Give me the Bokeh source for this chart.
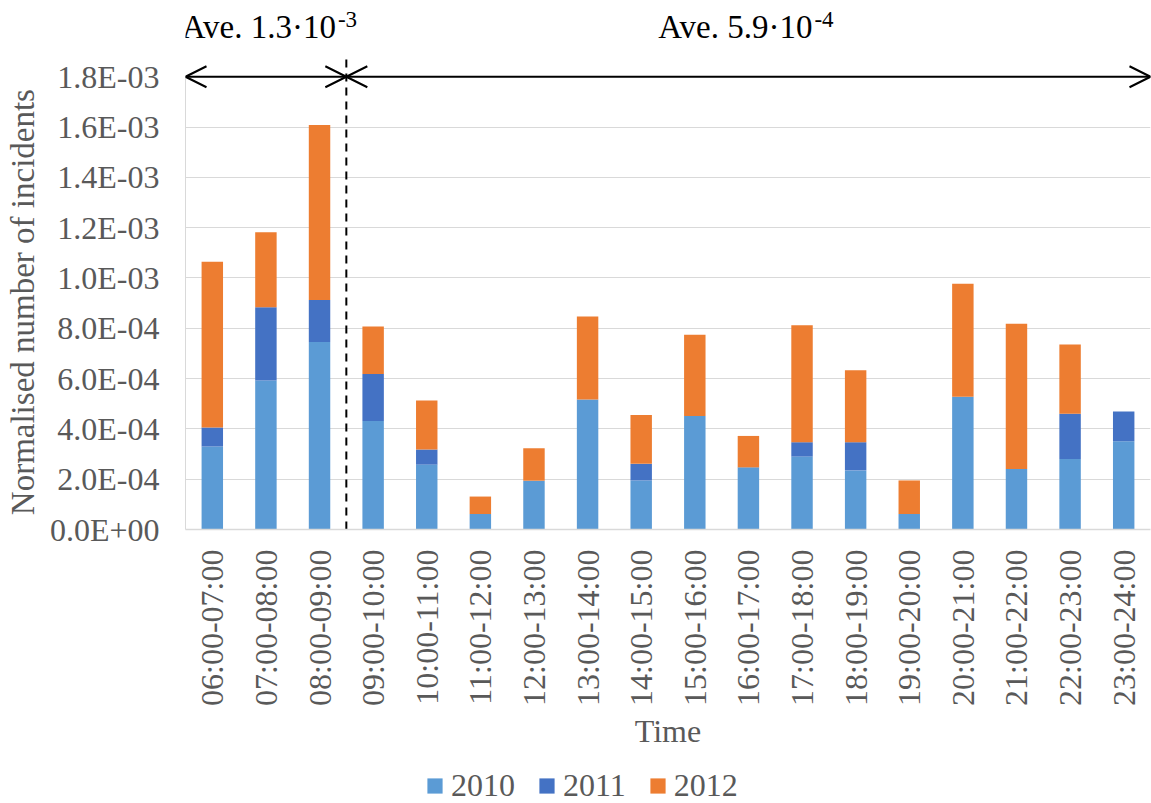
import math
from bokeh.plotting import figure
from bokeh.layouts import column
from bokeh.models import (ColumnDataSource, Range1d, FixedTicker, CustomJSTickFormatter,
                          Legend, LegendItem, Arrow, OpenHead, Label)
from bokeh.embed import file_html
from bokeh.resources import INLINE

# ---------------- data ----------------
categories = ["06:00-07:00", "07:00-08:00", "08:00-09:00", "09:00-10:00", "10:00-11:00",
              "11:00-12:00", "12:00-13:00", "13:00-14:00", "14:00-15:00", "15:00-16:00",
              "16:00-17:00", "17:00-18:00", "18:00-19:00", "19:00-20:00", "20:00-21:00",
              "21:00-22:00", "22:00-23:00", "23:00-24:00"]
years = ["2010", "2011", "2012"]
y2010 = [3.30e-4, 5.92e-4, 7.45e-4, 4.31e-4, 2.58e-4, 6.2e-5, 1.94e-4, 5.17e-4, 1.95e-4,
         4.51e-4, 2.47e-4, 2.90e-4, 2.35e-4, 6.2e-5, 5.28e-4, 2.41e-4, 2.80e-4, 3.51e-4]
y2011 = [7.6e-5, 2.92e-4, 1.67e-4, 1.87e-4, 6.0e-5, 0.0, 0.0, 0.0, 6.6e-5,
         0.0, 0.0, 5.7e-5, 1.12e-4, 0.0, 0.0, 0.0, 1.80e-4, 1.18e-4]
y2012 = [6.59e-4, 2.98e-4, 6.96e-4, 1.89e-4, 1.95e-4, 6.9e-5, 1.29e-4, 3.30e-4, 1.94e-4,
         3.23e-4, 1.25e-4, 4.65e-4, 2.86e-4, 1.33e-4, 4.49e-4, 5.77e-4, 2.76e-4, 0.0]
y_ticks = [0.0, 0.0002, 0.0004, 0.0006, 0.0008, 0.001, 0.0012, 0.0014, 0.0016, 0.0018]
split_index = 3                      # morning peak (06-09) vs rest of day
ave_texts = ["Ave. 1.3\u00b710", "Ave. 5.9\u00b710"]
ave_exps = ["-3", "-4"]
y_title = "Normalised number of incidents"

# ---------------- style ----------------
colors = ["#5B9BD5", "#4472C4", "#ED7D31"]
FONT = "Liberation Serif"
GREY = "#595959"
GRID = "#D9D9D9"
W, H_MAIN, H_LEG = 1151, 760, 43

n = len(categories)
xs = [i + 0.5 for i in range(n)]
data = {"x": xs}
for yr, vals in zip(years, [y2010, y2011, y2012]):
    data[yr] = vals
source = ColumnDataSource(data)

p = figure(width=W, height=H_MAIN,
           x_range=Range1d(0, n), y_range=Range1d(0, 2.1032e-3),
           output_backend="svg", toolbar_location=None,
           min_border_left=185, min_border_right=1, min_border_top=0,
           min_border_bottom=H_MAIN - 529)
p.outline_line_color = None
p.background_fill_color = "white"
p.border_fill_color = "white"

p.vbar_stack(years, x="x", width=0.4, source=source, fill_color=colors, line_color=None)

# x axis
p.xaxis.ticker = FixedTicker(ticks=xs)
p.xaxis.major_label_overrides = {xv: c for xv, c in zip(xs, categories)}
p.xaxis.major_label_orientation = math.pi / 2
p.xaxis.major_label_text_font = FONT
p.xaxis.major_label_text_font_size = "32px"
p.xaxis.major_label_text_color = GREY
p.xaxis.major_label_standoff = 20
p.xaxis.axis_label = "Time"
p.xaxis.axis_label_text_font = FONT
p.xaxis.axis_label_text_font_size = "32px"
p.xaxis.axis_label_text_font_style = "normal"
p.xaxis.axis_label_text_color = GREY
p.xaxis.axis_label_standoff = 4
p.xaxis.axis_line_color = GRID
p.xaxis.axis_line_width = 1.5
p.xaxis.major_tick_line_color = None
p.xaxis.minor_tick_line_color = None
p.xaxis.major_tick_out = 0
p.xaxis.major_tick_in = 0

# y axis
p.yaxis.ticker = FixedTicker(ticks=y_ticks)
p.yaxis.formatter = CustomJSTickFormatter(code="""
    const s = tick.toExponential(1);
    const parts = s.split('e');
    const sign = parts[1][0];
    let d = parts[1].slice(1);
    if (d.length < 2) { d = '0' + d; }
    return parts[0] + 'E' + sign + d;
""")
p.yaxis.bounds = (0, y_ticks[-1])
p.yaxis.major_label_text_font = FONT
p.yaxis.major_label_text_font_size = "32px"
p.yaxis.major_label_text_color = GREY
p.yaxis.major_label_standoff = 26
# trailing no-break spaces centre the title on the 0..1.8E-03 span, as in the original
p.yaxis.axis_label = y_title + "\u00a0" * 9
p.yaxis.axis_label_text_font = FONT
p.yaxis.axis_label_text_font_size = "33px"
p.yaxis.axis_label_text_font_style = "normal"
p.yaxis.axis_label_text_color = GREY
p.yaxis.axis_label_standoff = 6
p.yaxis.axis_line_color = GRID
p.yaxis.major_tick_line_color = None
p.yaxis.minor_tick_line_color = None
p.yaxis.major_tick_out = 0
p.yaxis.major_tick_in = 0

p.xgrid.grid_line_color = None
p.ygrid.ticker = FixedTicker(ticks=y_ticks)
p.ygrid.grid_line_color = GRID
p.ygrid.grid_line_width = 1

# split line
p.segment(x0=[split_index], y0=[0], x1=[split_index], y1=[1.873e-3],
          line_color="black", line_width=2, line_dash="8 6")

# arrows and average annotations
spans = [(0, split_index), (split_index, n)]
main_off = [70, 64]
for (a, b), t, e, off in zip(spans, ave_texts, ave_exps, main_off):
    p.add_layout(Arrow(x_start=a, y_start=y_ticks[-1], x_end=b, y_end=y_ticks[-1],
                       start=OpenHead(size=21, line_width=2, line_color="black"),
                       end=OpenHead(size=21, line_width=2, line_color="black"),
                       line_width=2, line_color="black"))
    mid = (a + b) / 2
    p.add_layout(Label(x=mid, y=y_ticks[-1], x_offset=off, y_offset=50, text=t,
                       text_align="right", text_baseline="alphabetic",
                       text_font=FONT, text_font_size="33px", text_color="black"))
    p.add_layout(Label(x=mid, y=y_ticks[-1], x_offset=off + 2, y_offset=57, text=e,
                       text_align="left", text_baseline="alphabetic",
                       text_font=FONT, text_font_size="23px", text_color="black"))

# ---------------- legend strip ----------------
pl = figure(width=W, height=H_LEG, x_range=Range1d(0, 1), y_range=Range1d(0, 1),
            x_axis_type=None, y_axis_type=None, output_backend="svg",
            toolbar_location=None, min_border=0)
pl.outline_line_color = None
pl.background_fill_alpha = 0
pl.border_fill_alpha = 0
# legend proxies (zero-height bars, nothing visible in the strip)
leg_renderers = [pl.vbar(x=[0.5], top=[0], bottom=[0], width=0.0,
                         fill_color=c, line_color=None)
                 for c in colors]
legend = Legend(items=[LegendItem(label=yr, renderers=[r], index=0)
                       for yr, r in zip(years, leg_renderers)],
                location=(240, -1), orientation="horizontal",
                glyph_width=19, glyph_height=19, label_standoff=7, spacing=22,
                padding=0, margin=0,
                label_text_font=FONT, label_text_font_size="32px", label_text_color=GREY,
                border_line_color=None, background_fill_alpha=0)
pl.add_layout(legend, "center")

layout = column(p, pl, spacing=0)
open("out.html", "w").write(file_html(layout, INLINE))
